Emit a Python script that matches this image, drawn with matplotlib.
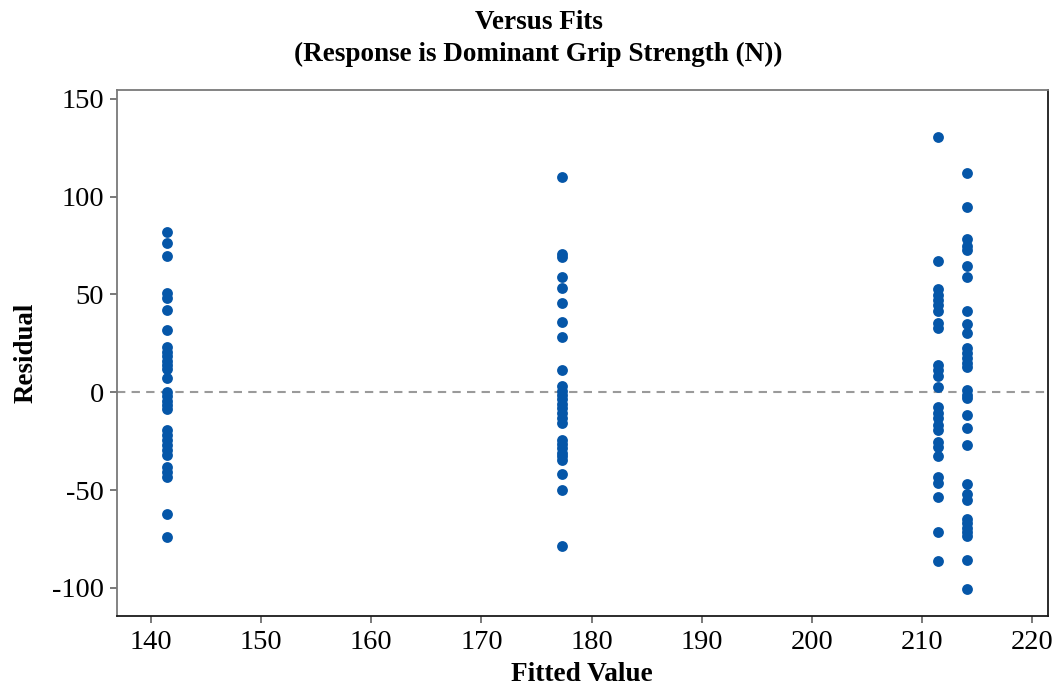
import matplotlib
matplotlib.use("Agg")
import matplotlib.pyplot as plt

plt.rcParams['font.family'] = ['Liberation Serif', 'DejaVu Serif']

# Fitted values (one per group) and residuals of each group
fit_groups = [141.48, 177.28, 211.47, 214.05]

resid_g1 = [82.0, 76.5, 69.5, 50.5, 48.0, 42.0, 32.0, 23.3, 20.7, 18.6, 16.2, 14.0,
            11.8, 7.5, 0.3, -1.9, -4.3, -6.5, -8.7, -19.3, -21.8, -24.4, -26.9,
            -29.5, -32.0, -38.0, -40.6, -43.1, -62.0, -73.8]
resid_g2 = [109.9, 70.8, 69.1, 58.9, 53.3, 45.4, 35.8, 28.0, 11.4, 3.2, 0.8, -1.4,
            -3.6, -6.0, -8.2, -10.7, -13.3, -15.8, -24.3, -26.4, -28.5, -30.8,
            -32.8, -34.5, -42.0, -50.0, -78.7]
resid_g3 = [130.6, 67.1, 53.0, 49.7, 47.2, 44.6, 41.6, 35.5, 32.7, 13.9, 11.4, 8.3,
            2.9, -7.3, -10.7, -13.3, -16.7, -19.2, -25.2, -27.8, -32.8, -43.1,
            -46.5, -53.3, -71.6, -86.5]
resid_g4 = [112.1, 94.6, 78.1, 74.5, 72.9, 64.5, 58.9, 41.6, 34.9, 30.1, 22.5, 19.9,
            17.4, 14.8, 13.1, 1.2, -1.4, -3.1, -11.6, -18.1, -26.9, -47.0, -52.1,
            -55.0, -64.7, -67.0, -69.3, -71.5, -73.6, -85.8, -100.8]

residual_groups = [resid_g1, resid_g2, resid_g3, resid_g4]

x_ticks = [140, 150, 160, 170, 180, 190, 200, 210, 220]
y_ticks = [-100, -50, 0, 50, 100, 150]

fig = plt.figure(figsize=(10.58, 6.88), dpi=100)
ax = fig.add_axes([0.1103, 0.1051, 0.88, 0.7636])

ax.axhline(0, color='#9a9a9a', linestyle=(0, (4, 3)), linewidth=1.5, zorder=1)

for fv, res in zip(fit_groups, residual_groups):
    ax.plot([fv] * len(res), res, 'o', color='#0556a8', markersize=7.8,
            markeredgewidth=0, zorder=3)

ax.set_xlim(136.9, 221.4)
ax.set_ylim(-114.2, 154.3)
ax.set_xticks(x_ticks)
ax.set_yticks(y_ticks)
ax.set_xticklabels([str(t) for t in x_ticks])
ax.set_yticklabels([str(t) for t in y_ticks])

ax.tick_params(axis='both', direction='out', length=5, width=1.1,
               labelsize=20.5, color='#555555')
ax.tick_params(axis='x', pad=5)
ax.tick_params(axis='y', pad=4)

ax.spines['left'].set_color('#7a7a7a')
ax.spines['top'].set_color('#7a7a7a')
ax.spines['bottom'].set_color('#1a1a1a')
ax.spines['right'].set_color('#1a1a1a')
for s in ax.spines.values():
    s.set_linewidth(1.3)

ax.set_xlabel('Fitted Value', fontsize=19.6, fontweight='bold', labelpad=5)
ax.set_ylabel('Residual', fontsize=19.4, fontweight='bold', labelpad=10)

fig.text(0.509, 0.968, 'Versus Fits', ha='center', va='center',
         fontsize=19.5, fontweight='bold')
fig.text(0.509, 0.921, '(Response is Dominant Grip Strength (N))', ha='center',
         va='center', fontsize=19.5, fontweight='bold')

fig.savefig('out.png', dpi=100, facecolor='white')
